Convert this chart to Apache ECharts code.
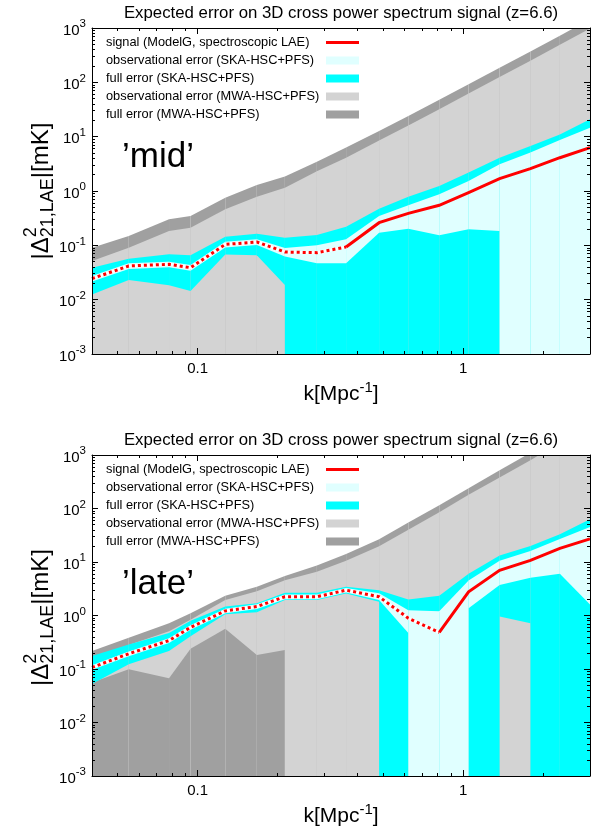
<!DOCTYPE html>
<html>
<head>
<meta charset="utf-8">
<title>Expected error on 3D cross power spectrum signal</title>
<script src="https://cdn.jsdelivr.net/npm/echarts@6.0.0/dist/echarts.min.js"></script>
<style>
html, body { margin: 0; padding: 0; background: #fff; }
#chart { width: 601px; height: 828px; }
</style>
</head>
<body>
<div id="chart"></div>
<script>
// Wavenumber bins k [Mpc^-1]
const kBins = [0.04, 0.055, 0.078, 0.094, 0.127, 0.167, 0.213, 0.281, 0.362, 0.482, 0.621, 0.812, 1.047, 1.37, 1.79, 2.31, 3.0];

// Axis ranges, ticks and labels
const xRange = [0.04, 3.0];
const yRange = [1e-3, 1e3];
const xMajorTicks = [0.1, 1];
const xMinorTicks = [0.05, 0.06, 0.07, 0.08, 0.09, 0.2, 0.3, 0.4, 0.5, 0.6, 0.7, 0.8, 0.9, 2, 3];
const yMajorTicks = [1e-3, 1e-2, 1e-1, 1, 10, 100, 1000];
const yMinorTicks = [
  2e-3, 3e-3, 4e-3, 5e-3, 6e-3, 7e-3, 8e-3, 9e-3,
  2e-2, 3e-2, 4e-2, 5e-2, 6e-2, 7e-2, 8e-2, 9e-2,
  0.2, 0.3, 0.4, 0.5, 0.6, 0.7, 0.8, 0.9,
  2, 3, 4, 5, 6, 7, 8, 9,
  20, 30, 40, 50, 60, 70, 80, 90,
  200, 300, 400, 500, 600, 700, 800, 900
];

const titleText = 'Expected error on 3D cross power spectrum signal (z=6.6)';
const panelLabels = ['\u2019mid\u2019', '\u2019late\u2019'];
const names = {
  signal: 'signal (ModelG, spectroscopic LAE)',
  skaObs: 'observational error (SKA-HSC+PFS)',
  skaFull: 'full error (SKA-HSC+PFS)',
  mwaObs: 'observational error (MWA-HSC+PFS)',
  mwaFull: 'full error (MWA-HSC+PFS)'
};

// 'mid' model. Signal is signed (negative part drawn dotted as |signal|).
// Band edges in mK; a lower edge of 0 means signal - error <= 0.
const midSignal      = [-0.0244, -0.0417, -0.0447, -0.0388, -0.104, -0.115, -0.0753, -0.0733, -0.0931, 0.261, 0.388, 0.545, 0.93, 1.69, 2.58, 4.1, 6.28];
const midSkaObsLow   = [0.0215, 0.0367, 0.0393, 0.0341, 0.0915, 0.101, 0.062, 0.0466, 0.0466, 0.171, 0.203, 0.153, 0.197, 0.184, 0, 0, 0];
const midSkaObsUp    = [0.0273, 0.0467, 0.050, 0.0435, 0.116, 0.129, 0.089, 0.100, 0.130, 0.347, 0.545, 0.87, 1.53, 3.1, 5.1, 8.7, 14.6];
const midSkaFullLow  = [0.0125, 0.023, 0.0184, 0.0144, 0.068, 0.066, 0.0186, 0, 0, 0, 0, 0, 0, 0, 0, 0, 0];
const midSkaFullUp   = [0.0388, 0.0568, 0.0683, 0.0655, 0.144, 0.164, 0.138, 0.155, 0.22, 0.473, 0.787, 1.24, 2.2, 4.1, 6.7, 11, 21];
const midMwaObsLow   = [0, 0, 0, 0, 0, 0, 0, 0, 0, 0, 0, 0, 0, 0, 0, 0, 0];
const midMwaObsUp    = [0.0515, 0.0906, 0.184, 0.211, 0.46, 0.787, 1.15, 2.3, 4.1, 8.5, 16, 32, 62, 125, 250, 490, 980];
const midMwaFullLow  = [0, 0, 0, 0, 0, 0, 0, 0, 0, 0, 0, 0, 0, 0, 0, 0, 0];
const midMwaFullUp   = [0.0906, 0.149, 0.301, 0.347, 0.754, 1.29, 1.84, 3.45, 6.3, 12.7, 24, 48, 92, 185, 370, 720, 1450];

// 'late' model
const lateSignal     = [-0.107, -0.193, -0.34, -0.6, -1.22, -1.47, -2.24, -2.24, -2.98, -2.24, -0.89, -0.485, 2.77, 6.97, 10.7, 18, 27];
const lateSkaObsLow  = [0.097, 0.174, 0.306, 0.54, 1.1, 1.32, 2.02, 2.02, 2.7, 1.95, 0.47, 0, 1.37, 3.7, 5.1, 6.0, 1.6];
const lateSkaObsUp   = [0.118, 0.212, 0.374, 0.66, 1.34, 1.62, 2.46, 2.46, 3.28, 2.6, 1.25, 1.2, 4.5, 10.5, 16, 27, 45];
const lateSkaFullLow = [0.0525, 0.123, 0.216, 0.41, 1.06, 1.15, 1.95, 1.95, 2.58, 1.81, 0, 0, 0, 0.96, 0.72, 0, 0];
const lateSkaFullUp  = [0.175, 0.287, 0.472, 0.8, 1.47, 1.69, 2.66, 2.66, 3.43, 2.98, 2.0, 2.34, 6.05, 13.2, 20, 33, 63];
const lateMwaObsLow  = [0.056, 0.099, 0.067, 0.239, 0.567, 0.183, 0.226, 0, 0, 0, 0, 0, 0, 0, 0, 0, 0];
const lateMwaObsUp   = [0.16, 0.28, 0.507, 0.83, 1.95, 2.85, 4.55, 6.6, 10.6, 19.6, 40, 85, 180, 380, 800, 1700, 3500];
const lateMwaFullLow = [0, 0, 0, 0, 0, 0, 0, 0, 0, 0, 0, 0, 0, 0, 0, 0, 0];
const lateMwaFullUp  = [0.216, 0.382, 0.72, 1.1, 2.34, 3.43, 5.47, 8.6, 14.1, 26.6, 55, 115, 240, 520, 1100, 2300, 4800];

const FONT = '"Liberation Sans", Arial, Helvetica, sans-serif';
const colors = {
  signal: '#ff0000', skaObs: '#e0ffff', skaFull: '#00ffff', mwaObs: '#d3d3d3', mwaFull: '#a0a0a0'
};

const panels = [
  { grid: { left: 92, top: 28, width: 498, height: 326 }, label: panelLabels[0], signal: midSignal,
    bands: [
      ['mwaFull', midMwaFullLow, midMwaFullUp], ['mwaObs', midMwaObsLow, midMwaObsUp],
      ['skaFull', midSkaFullLow, midSkaFullUp], ['skaObs', midSkaObsLow, midSkaObsUp]
    ] },
  { grid: { left: 92, top: 455, width: 498, height: 325 }, label: panelLabels[1], signal: lateSignal,
    bands: [
      ['mwaFull', lateMwaFullLow, lateMwaFullUp], ['mwaObs', lateMwaObsLow, lateMwaObsUp],
      ['skaFull', lateSkaFullLow, lateSkaFullUp], ['skaObs', lateSkaObsLow, lateSkaObsUp]
    ] }
];

// text width helper for the composed y-axis title
const measureCtx = document.createElement('canvas').getContext('2d');
function textWidth(str, size) {
  measureCtx.font = size + 'px ' + FONT;
  return measureCtx.measureText(str).width;
}

// One polygon per k segment; a non-positive lower edge drops straight to the bottom of the log axis.
function bandSeries(key, lows, ups, axisIdx, z) {
  const data = [];
  for (let i = 0; i < kBins.length - 1; i++) {
    data.push([kBins[i], kBins[i + 1], lows[i], ups[i], lows[i + 1], ups[i + 1]]);
  }
  return {
    type: 'custom', name: names[key], xAxisIndex: axisIdx, yAxisIndex: axisIdx,
    clip: true, silent: true, z: z, itemStyle: { color: colors[key] },
    encode: { x: [0, 1], y: [2, 3, 4, 5] },
    data: data,
    renderItem: function (params, api) {
      const k0 = api.value(0), k1 = api.value(1);
      const lo0 = api.value(2), up0 = api.value(3), lo1 = api.value(4), up1 = api.value(5);
      const a = api.coord([k0, up0]);
      const b = api.coord([k1, up1]);
      const bottom = api.coord([k0, yRange[0]])[1] + 2;
      const pts = [a, b];
      const la = lo0 > 0 ? api.coord([k0, lo0]) : null;
      const lb = lo1 > 0 ? api.coord([k1, lo1]) : null;
      if (la && lb) { pts.push(lb, la); }
      else if (la && !lb) { pts.push([b[0], bottom], [a[0], bottom], la); }
      else if (!la && lb) { pts.push(lb, [b[0], bottom], [a[0], bottom]); }
      else { pts.push([b[0], bottom], [a[0], bottom]); }
      return { type: 'polygon', shape: { points: pts }, style: { fill: colors[key] } };
    }
  };
}

function signalSeries(sig, axisIdx) {
  const neg = [], pos = [];
  for (let i = 0; i < sig.length; i++) {
    const pt = [kBins[i], Math.abs(sig[i])];
    if (sig[i] < 0) neg.push(pt);
    if (sig[i] > 0 || (i + 1 < sig.length && sig[i + 1] > 0)) pos.push(pt);
  }
  const base = { type: 'line', name: names.signal, xAxisIndex: axisIdx, yAxisIndex: axisIdx,
    showSymbol: false, symbol: 'none', silent: true, clip: true };
  return [
    Object.assign({}, base, { z: 6, data: neg, lineStyle: { color: '#ffffff', width: 3 } }),
    Object.assign({}, base, { z: 7, data: neg, lineStyle: { color: colors.signal, width: 3, type: [3, 3], cap: 'butt' } }),
    Object.assign({}, base, { z: 8, data: pos, lineStyle: { color: colors.signal, width: 3, join: 'miter' } })
  ];
}

const xAxes = [], yAxes = [], series = [], grids = [], titles = [], legends = [], graphics = [];

const tickLabelRich = {
  b: { fontSize: 15, fontFamily: FONT, color: '#000', lineHeight: 20, verticalAlign: 'bottom' },
  e: { fontSize: 11.5, fontFamily: FONT, color: '#000', lineHeight: 11, verticalAlign: 'top' }
};

panels.forEach(function (p, pi) {
  const g = p.grid;
  grids.push(g);
  const base = pi * 4;

  function xAxis(position, major, withLabel) {
    return {
      gridIndex: pi, type: 'log', min: xRange[0], max: xRange[1], position: position, z: 10,
      axisLine: { show: major, onZero: false, lineStyle: { color: '#000', width: 1 } },
      axisTick: { show: true, inside: true, length: major ? 6 : 3, customValues: major ? xMajorTicks : xMinorTicks,
        lineStyle: { color: '#000', width: 1 } },
      axisLabel: withLabel ? { show: true, customValues: xMajorTicks, margin: 7, fontSize: 15, fontFamily: FONT, color: '#000',
        formatter: function (v) { return String(v); } } : { show: false },
      splitLine: { show: false },
      name: withLabel ? '{n|k[Mpc}{s|-1}{n|]}' : '',
      nameLocation: 'middle', nameGap: 26,
      nameTextStyle: { rich: {
        n: { fontSize: 21, fontFamily: FONT, color: '#000', lineHeight: 25, verticalAlign: 'bottom' },
        s: { fontSize: 15, fontFamily: FONT, color: '#000', lineHeight: 14, verticalAlign: 'top' }
      } }
    };
  }
  function yAxis(position, major, withLabel) {
    return {
      gridIndex: pi, type: 'log', min: yRange[0], max: yRange[1], position: position, z: 10,
      axisLine: { show: major, onZero: false, lineStyle: { color: '#000', width: 1 } },
      axisTick: { show: true, inside: true, length: major ? 6 : 3, customValues: major ? yMajorTicks : yMinorTicks,
        lineStyle: { color: '#000', width: 1 } },
      axisLabel: withLabel ? { show: true, customValues: yMajorTicks, margin: 6, rich: tickLabelRich,
        formatter: function (v) { return '{b|10}{e|' + Math.round(Math.log10(v)) + '}'; } } : { show: false },
      splitLine: { show: false }
    };
  }
  xAxes.push(xAxis('bottom', true, true), xAxis('bottom', false, false), xAxis('top', true, false), xAxis('top', false, false));
  yAxes.push(yAxis('left', true, true), yAxis('left', false, false), yAxis('right', true, false), yAxis('right', false, false));

  p.bands.forEach(function (b, bi) { series.push(bandSeries(b[0], b[1], b[2], base, 2 + bi)); });
  signalSeries(p.signal, base).forEach(function (s) { series.push(s); });

  titles.push({
    text: titleText, left: g.left + g.width / 2, top: g.top - 24, textAlign: 'center', padding: 0,
    textStyle: { fontSize: 16.8, fontWeight: 'normal', fontFamily: FONT, color: '#000', lineHeight: 18 }
  });

  legends.push({
    orient: 'vertical', align: 'right', left: 106, top: g.top + 8, padding: 0,
    itemWidth: 33, itemHeight: 8, itemGap: 5, selectedMode: false, z: 12,
    formatter: function (name) { return '{t|' + name + '}'; },
    textStyle: { rich: { t: { width: 215, align: 'left', fontSize: 12.8, fontFamily: FONT, color: '#000', lineHeight: 14 } } },
    data: [
      { name: names.signal, icon: 'path://M0,0L33,0L33,3L0,3Z', itemStyle: { color: colors.signal } },
      { name: names.skaObs, icon: 'rect', itemStyle: { color: colors.skaObs } },
      { name: names.skaFull, icon: 'rect', itemStyle: { color: colors.skaFull } },
      { name: names.mwaObs, icon: 'rect', itemStyle: { color: colors.mwaObs } },
      { name: names.mwaFull, icon: 'rect', itemStyle: { color: colors.mwaFull } }
    ]
  });

  // panel tag
  graphics.push({
    type: 'text', left: 122, top: g.top + 112, z: 20,
    style: { text: p.label, font: '35px ' + FONT, fill: '#000' }
  });

  // y-axis title |Δ^2_{21,LAE}|[mK], read bottom to top
  const big = 24, small = 18;
  const partA = '|\u0394', sup = '2', sub = '21,LAE', partB = '|[mK]';
  const wA = textWidth(partA, big), wSub = Math.max(textWidth(sub, small), textWidth(sup, small)), wB = textWidth(partB, big);
  const total = wA + wSub + wB;
  const x0 = -total / 2;
  graphics.push({
    type: 'group', x: 41, y: g.top + g.height / 2, rotation: Math.PI / 2, z: 20,
    children: [
      { type: 'text', x: x0, y: 0, style: { text: partA, font: big + 'px ' + FONT, fill: '#000', align: 'left', verticalAlign: 'middle' } },
      { type: 'text', x: x0 + wA, y: -10, style: { text: sup, font: small + 'px ' + FONT, fill: '#000', align: 'left', verticalAlign: 'middle' } },
      { type: 'text', x: x0 + wA, y: 7, style: { text: sub, font: small + 'px ' + FONT, fill: '#000', align: 'left', verticalAlign: 'middle' } },
      { type: 'text', x: x0 + wA + wSub, y: 0, style: { text: partB, font: big + 'px ' + FONT, fill: '#000', align: 'left', verticalAlign: 'middle' } }
    ]
  });
});

const chart = echarts.init(document.getElementById('chart'), null, { renderer: 'canvas', width: 601, height: 828 });
chart.setOption({
  animation: false,
  backgroundColor: '#ffffff',
  title: titles,
  legend: legends,
  grid: grids,
  xAxis: xAxes,
  yAxis: yAxes,
  series: series,
  graphic: graphics
});
</script>
</body>
</html>
